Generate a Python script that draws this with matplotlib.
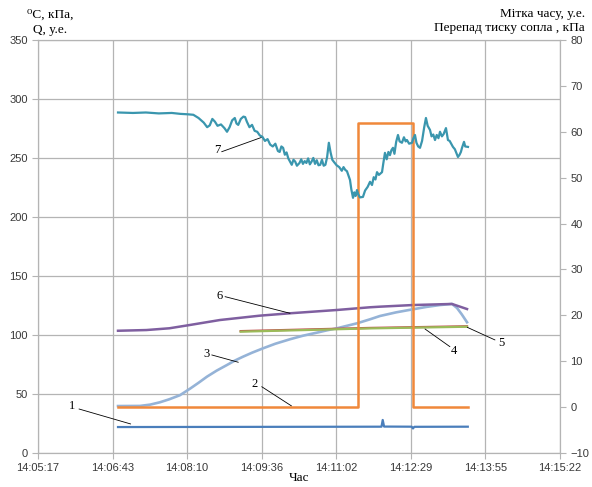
import numpy as np
import matplotlib.pyplot as plt

# time axis: seconds after 14:05:17, ticks every 0.001 day (86.4 s)
tick_labels = ['14:05:17', '14:06:43', '14:08:10', '14:09:36',
               '14:11:02', '14:12:29', '14:13:55', '14:15:22']

# 1 - dark blue, left axis
t1 = [92.7, 200, 300, 398, 399.4, 401, 433, 434.5, 436, 498]
v1 = [22.0, 22.1, 22.2, 22.3, 28.0, 22.4, 22.3, 20.8, 22.2, 22.3]

# 2 - time mark (orange), right axis
t2 = [92.7, 370.2, 370.2, 434.2, 434.2, 498]
v2 = [0, 0, 62, 62, 0, 0]

# 3 - light blue, left axis
t3 = [92.7, 118.2, 130, 141.3, 152, 164.5, 176.1, 186, 195.8, 207, 219.0,
      228, 237.5, 248, 260.7, 275, 292.0, 307, 323.2, 335, 346.4, 358,
      369.6, 384.7, 396.2, 415, 434.5, 450, 465.8, 479.7, 485.5, 491, 497.1]
v3 = [39.8, 39.9, 41.0, 43.0, 45.5, 49.0, 54.5, 59.5, 64.7, 69.8, 74.6,
      78.3, 81.6, 85.0, 88.7, 92.6, 96.4, 99.4, 102.0, 104.0, 105.7, 107.8,
      109.9, 113.3, 116.1, 119.2, 121.8, 123.8, 125.4, 126.3, 122.9, 117.5,
      110.8]

# 4 - green, left axis
t4 = [234.8, 384.7, 497.1]
v4 = [102.8, 105.6, 107.0]

# 5 - red, left axis
t5 = [234.8, 384.7, 497.1]
v5 = [103.3, 106.0, 107.4]

# 6 - purple, left axis
t6 = [92.7, 125.6, 152.3, 176.1, 210.8, 257.2, 292.0, 346.4, 384.7, 396.2,
      434.5, 479.7, 497.1]
v6 = [103.6, 104.2, 105.7, 108.5, 112.7, 116.4, 118.4, 121.2, 123.5, 124.0,
      125.4, 126.3, 122.0]

# 7 - nozzle pressure drop (teal), right axis
t7 = [92.7, 110, 125, 140, 155, 165, 174, 180, 186, 192, 196, 199, 202, 205,
      208, 212, 216, 219, 222, 225, 228, 230, 232, 235, 238, 240, 242, 245,
      248, 251, 254, 257, 260, 263, 266, 269, 272, 275, 278, 280, 282, 284,
      286, 288, 290, 292, 294, 296, 298, 300, 303, 305, 307, 309, 311, 313,
      315, 317, 319, 321, 323, 325, 327, 329, 331, 333, 335, 337, 339, 341,
      343, 346, 349, 352, 354, 356, 358, 360, 361.5, 363, 365, 366.5, 368,
      369.6, 371, 373, 376.5, 379, 382, 384.7, 387, 389, 391, 392.8, 395,
      398.6, 400, 402, 404, 406, 407.8, 409.5, 411.3, 413, 415, 417.1, 419,
      421.7, 424, 426, 427.5, 430, 433.3, 435, 436.8, 438.5, 440.5, 442.6,
      445, 447.5, 449.5, 451.5, 454.2, 456, 458, 460, 462, 464, 465.8, 468,
      470, 472.7, 475, 477, 480.8, 483, 486.6, 488.5, 490, 491.3, 493.6, 495,
      498.2]
v7 = [64.2, 64.1, 64.2, 64.0, 64.1, 63.9, 63.8, 63.7, 63.0, 62.0, 61.0, 61.4,
      62.8, 62.2, 61.3, 61.6, 60.8, 60.0, 61.0, 62.5, 63.0, 61.8, 61.5, 62.8,
      63.3, 63.2, 62.2, 61.0, 61.5, 60.2, 60.0, 59.2, 58.9, 58.0, 58.4, 57.2,
      56.8, 57.4, 55.8, 55.6, 56.8, 56.5, 55.0, 55.5, 54.2, 53.5, 52.8, 53.9,
      53.5, 52.6, 53.2, 54.0, 53.0, 53.6, 53.2, 54.2, 52.9, 53.5, 54.3, 53.0,
      53.8, 52.7, 52.8, 53.9, 52.6, 52.8, 54.5, 57.6, 55.5, 53.9, 53.4, 52.7,
      52.3, 51.5, 52.3, 51.7, 51.4, 50.3, 49.5, 47.5, 45.6, 46.8, 46.0, 47.3,
      46.4, 45.7, 45.8, 47.2, 48.0, 49.1, 48.4, 50.1, 49.6, 51.2, 50.6, 51.2,
      53.0, 55.4, 54.0, 55.6, 54.9, 56.0, 56.5, 55.2, 57.8, 59.3, 57.9, 57.6,
      58.8, 57.9, 58.2, 57.4, 57.6, 58.6, 59.3, 57.6, 56.8, 56.5, 58.0, 61.0,
      63.0, 61.3, 60.4, 59.0, 59.4, 58.2, 59.3, 58.6, 60.0, 59.0, 59.5, 60.8,
      58.2, 58.0, 56.7, 56.2, 54.5, 55.0, 55.6, 56.5, 57.8, 56.8, 56.7]

serif = ['Liberation Serif', 'DejaVu Serif']
grid_c = '#B4B4B4'

fig = plt.figure(figsize=(5.92, 4.87), dpi=100)
ax = fig.add_axes([0.0642, 0.0698, 0.8817, 0.8481])
ax2 = ax.twinx()

ax.plot(t1, v1, color='#4A7EBB', lw=1.6)
ax.plot(t3, v3, color='#95B3D7', lw=1.9)
ax.plot(t5, v5, color='#C0504D', lw=1.6)
ax.plot(t4, v4, color='#9BBB59', lw=1.6)
ax.plot(t6, v6, color='#7F5FA0', lw=1.8)
ax2.plot(t2, v2, color='#F0883A', lw=1.8)
ax2.plot(t7, v7, color='#3A96AE', lw=1.6)

xt = np.arange(8) * 86.4
ax.set_xlim(0, 604.8)
ax.set_xticks(xt)
ax.set_xticklabels(tick_labels)
ax.set_ylim(0, 350)
ax.set_yticks(np.arange(0, 351, 50))
ax2.set_ylim(-10, 80)
ax2.set_yticks(np.arange(-10, 81, 10))
ax.grid(True, color=grid_c, lw=0.9)

for a in (ax, ax2):
    for s in a.spines.values():
        s.set_color(grid_c)
    a.tick_params(colors=grid_c, labelcolor='#383838', labelsize=8,
                  length=4, width=0.8)
    for lab in a.get_xticklabels() + a.get_yticklabels():
        lab.set_fontfamily('Liberation Sans')

# leader labels (series numbers)
notes = [('1', (39.0, 39.8), (47.5, 37.3), (107.4, 24.6)),
         ('2', (251.4, 58.5), (259.2, 56.2), (293.9, 39.8)),
         ('3', (195.5, 83.6), (201.3, 83.1), (232.1, 76.9)),
         ('6', (210.1, 133.3), (216.7, 132.5), (292.0, 118.4)),
         ('4', (482.0, 86.7), (477.3, 90.1), (448.4, 105.1)),
         ('5', (537.2, 93.5), (529.5, 95.8), (497.4, 106.5)),
         ('7', (207.7, 256.8), (212.8, 255.3), (259.2, 267.5))]
for txt, tp, p0, p1 in notes:
    ax.annotate('', xy=p1, xytext=p0,
                arrowprops=dict(arrowstyle='-', color='black', lw=0.6,
                                shrinkA=0, shrinkB=0), zorder=6)
    ax.text(tp[0], tp[1], txt, ha='center', va='center', fontsize=9,
            family=serif, zorder=6)

fig.text(0.085, 0.969, '⁰C, кПа,', ha='center', va='center', fontsize=9.5, family=serif)
fig.text(0.085, 0.938, 'Q, у.е.', ha='center', va='center', fontsize=9.5, family=serif)
fig.text(0.988, 0.971, 'Мітка часу, у.е.', ha='right', va='center', fontsize=9.5, family=serif)
fig.text(0.988, 0.942, 'Перепад тиску сопла , кПа', ha='right', va='center', fontsize=9.5, family=serif)
fig.text(0.505, 0.018, 'Час', ha='center', va='center', fontsize=9.5, family=serif)

fig.savefig('out.png', dpi=100)
